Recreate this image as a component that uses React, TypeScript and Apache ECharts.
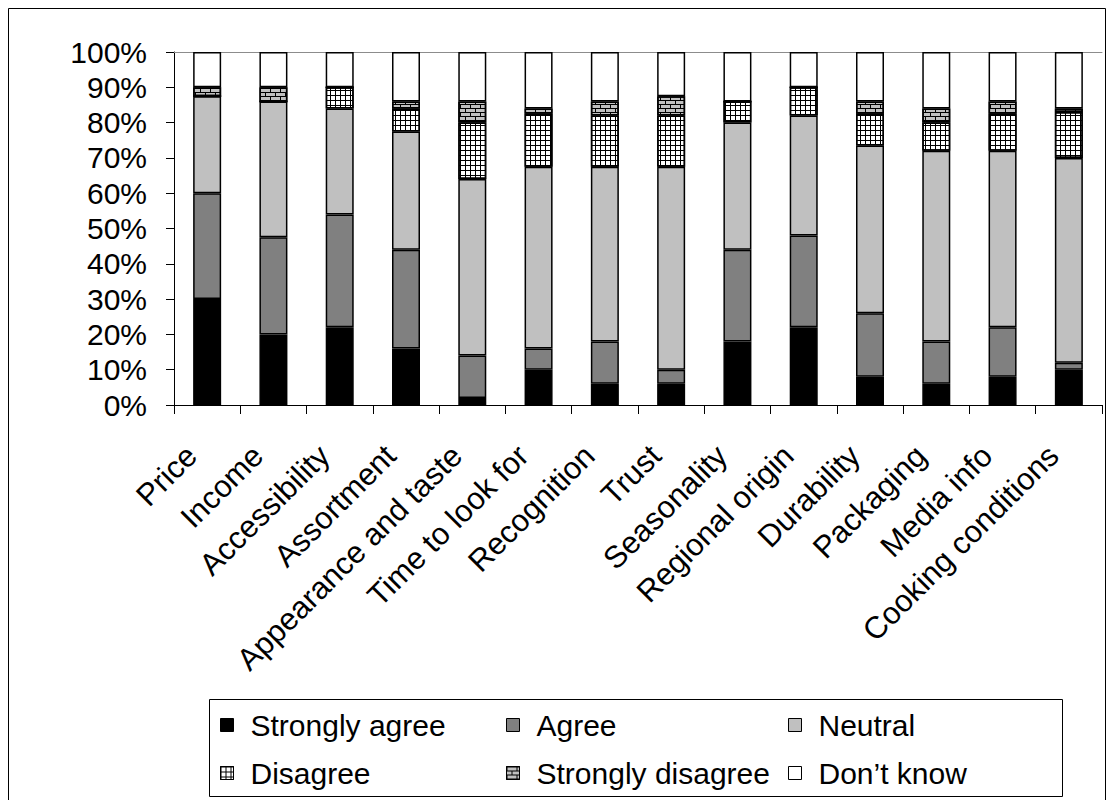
import React, { useEffect, useRef } from "react";
import * as echarts from "echarts";

const categories = [
  "Price", "Income", "Accessibility", "Assortment", "Appearance and taste",
  "Time to look for", "Recognition", "Trust", "Seasonality", "Regional origin",
  "Durability", "Packaging", "Media info", "Cooking conditions",
];
const stronglyAgree = [30, 20, 22, 16, 2, 10, 6, 6, 18, 22, 8, 6, 8, 10];
const agree = [30, 27.5, 32, 28, 12, 6, 12, 4, 26, 26, 18, 12, 14, 2];
const neutral = [27.5, 38.5, 30, 33.5, 50, 51.5, 49.5, 57.5, 36, 34, 47.5, 54, 50, 58];
const disagree = [0, 0, 6, 6.5, 16, 15, 14.5, 14.5, 6, 8, 9, 8, 10.5, 13];
const stronglyDisagree = [2.5, 4, 0, 2, 6, 1.5, 4, 5.5, 0, 0, 3.5, 4, 3.5, 1];
const dontKnow = [10, 10, 10, 14, 14, 16, 14, 12.5, 14, 10, 14, 16, 14, 16];
const yTicks = [0, 10, 20, 30, 40, 50, 60, 70, 80, 90, 100];

const FONT = 'Arial, "Liberation Sans", sans-serif';

// grid of thin black lines (cell 5x5)
const gridDecal = {
  symbol: "path://M0,0H5V1H0Z M0,0H1V5H0Z",
  symbolSize: 1,
  symbolKeepAspect: false,
  color: "#000000",
  dashArrayX: [5, 0],
  dashArrayY: [5, 0],
};
// brick pattern (tile 10x8)
const brickDecal = {
  symbol: "path://M0,0H10V1H0Z M0,4H10V5H0Z M0,0H1V4H0Z M5,4H6V8H5Z",
  symbolSize: 1,
  symbolKeepAspect: false,
  color: "#000000",
  dashArrayX: [10, 0],
  dashArrayY: [8, 0],
};

export default function App() {
  const ref = useRef<HTMLDivElement>(null);
  useEffect(() => {
    const chart = echarts.init(ref.current!, null, { renderer: "svg" });
    const mk = (name: string, data: number[], color: string, decal?: any) => ({
      name,
      type: "bar",
      stack: "all",
      data,
      barWidth: 28,
      itemStyle: decal
        ? { color, borderColor: "#000", borderWidth: 1.5, decal }
        : { color, borderColor: "#000", borderWidth: 1.5 },
    });
    const series = [
      mk("Strongly agree", stronglyAgree, "#000000"),
      mk("Agree", agree, "#808080"),
      mk("Neutral", neutral, "#c0c0c0"),
      mk("Disagree", disagree, "#ffffff", gridDecal),
      mk("Strongly disagree", stronglyDisagree, "#c0c0c0", brickDecal),
      mk("Don\u2019t know", dontKnow, "#ffffff"),
    ];
    const legendPos = [
      { name: "Strongly agree", left: 220, top: 710 },
      { name: "Agree", left: 506, top: 710 },
      { name: "Neutral", left: 788, top: 710 },
      { name: "Disagree", left: 220, top: 758 },
      { name: "Strongly disagree", left: 506, top: 758 },
      { name: "Don\u2019t know", left: 788, top: 758 },
    ];
    chart.setOption({
      animation: false,
      backgroundColor: "#ffffff",
      grid: { left: 174, right: 12, top: 52, bottom: 395 },
      legend: legendPos.map((l) => ({
        data: [l.name],
        left: l.left,
        top: l.top,
        padding: 0,
        itemWidth: 13,
        itemHeight: 13,
        icon: "rect",
        selectedMode: false,
        itemStyle: { borderWidth: 1, borderColor: "#000" },
        textStyle: { fontSize: 30, lineHeight: 30, color: "#000", fontFamily: FONT, padding: [0, 0, 0, 12] },
      })),
      xAxis: [
        {
          type: "category",
          data: categories,
          position: "bottom",
          axisLine: { lineStyle: { color: "#000", width: 1 } },
          axisTick: { show: true, length: 9, lineStyle: { color: "#000" } },
          axisLabel: {
            interval: 0,
            rotate: 45,
            margin: 30,
            padding: [0, 22, 0, 0],
            fontSize: 31,
            color: "#000",
            fontFamily: FONT,
          },
        },
        {
          type: "category",
          data: categories,
          position: "top",
          axisLine: { lineStyle: { color: "#8c8c8c", width: 1 } },
          axisTick: { show: false },
          axisLabel: { show: false },
        },
      ],
      yAxis: {
        type: "value",
        min: yTicks[0],
        max: yTicks[yTicks.length - 1],
        interval: 10,
        axisLine: { show: true, lineStyle: { color: "#000", width: 1 } },
        axisTick: { show: true, length: 8, lineStyle: { color: "#000" } },
        splitLine: { show: false },
        axisLabel: {
          formatter: "{value}%",
          fontSize: 30,
          color: "#000",
          fontFamily: FONT,
          margin: 27,
        },
      },
      series,
      graphic: [
        {
          type: "rect",
          shape: { x: 8.5, y: 8.5, width: 1097, height: 900 },
          style: { fill: "none", stroke: "#000", lineWidth: 1 },
          silent: true,
          z: -10,
        },
        {
          type: "rect",
          shape: { x: 209.5, y: 699.5, width: 853, height: 97 },
          style: { fill: "none", stroke: "#000", lineWidth: 1 },
          silent: true,
          z: -5,
        },
      ],
    });
    return () => chart.dispose();
  }, []);
  return (
    <div
      ref={ref}
      style={{ position: "absolute", left: 0, top: 0, width: 1114, height: 800 }}
    />
  );
}
